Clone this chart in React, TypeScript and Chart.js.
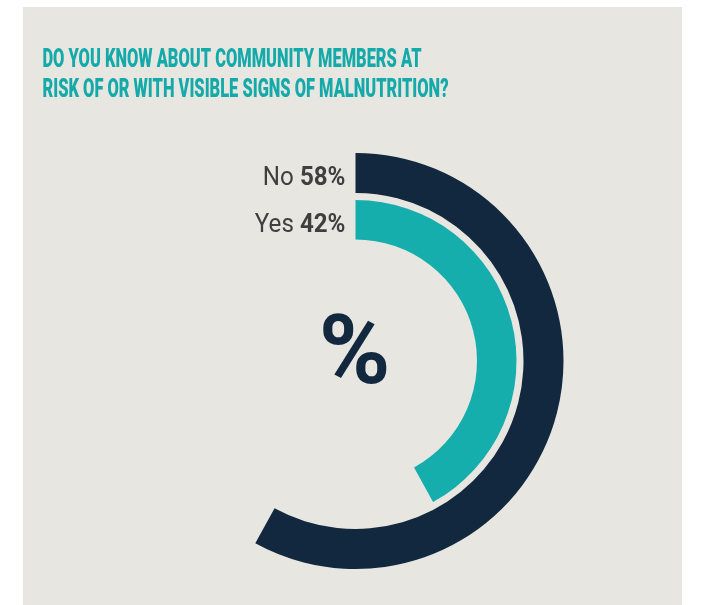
import React, { useEffect, useRef } from "react";
import { Chart, registerables } from "chart.js";

Chart.register(...registerables);

const titleLines = [
  "DO YOU KNOW ABOUT COMMUNITY MEMBERS AT",
  "RISK OF OR WITH VISIBLE SIGNS OF MALNUTRITION?",
];
const categories = ["No", "Yes"];
const values = [58, 42];
const seriesColors = ["#12283e", "#16adad"];
const centerSymbol = "%";

const BG = "#e7e6e1";
const TITLE_COLOR = "#13aaa9";
const LABEL_COLOR = "#3f3f3f";

const overlayPlugin = {
  id: "overlay",
  beforeDraw(chart: any) {
    const ctx = chart.ctx;
    ctx.save();
    ctx.fillStyle = "#ffffff";
    ctx.fillRect(0, 0, chart.width, chart.height);
    ctx.fillStyle = BG;
    ctx.fillRect(23, 7, 659, chart.height - 7);
    ctx.restore();
  },
  afterDraw(chart: any) {
    const ctx = chart.ctx;
    ctx.save();
    // title
    ctx.fillStyle = TITLE_COLOR;
    ctx.font = "900 25px Roboto";
    ctx.textBaseline = "alphabetic";
    ctx.textAlign = "left";
    const w0 = ctx.measureText(titleLines[0]).width;
    const sx = 379 / w0;
    titleLines.forEach((line, i) => {
      ctx.save();
      ctx.translate(42.5, 67 + i * 30);
      ctx.scale(sx, 1);
      ctx.fillText(line, 0, 0);
      ctx.restore();
    });

    // labels beside ring starts
    const meta0 = chart.getDatasetMeta(0);
    const cx = meta0.data[0].x;
    const cy = meta0.data[0].y;
    const ringIdx = [0, 2];
    categories.forEach((cat, i) => {
      const arc: any = chart.getDatasetMeta(ringIdx[i]).data[0];
      const mid = cy - (arc.outerRadius + arc.innerRadius) / 2;
      const baseline = mid + 12;
      const right = cx - 10;
      const valTxt = values[i] + "%";
      ctx.textAlign = "left";
      ctx.fillStyle = LABEL_COLOR;
      ctx.font = "bold 26px Roboto";
      const vw = ctx.measureText(valTxt).width;
      ctx.font = "26px Roboto";
      const cw = ctx.measureText(cat + " ").width;
      const total = vw + cw;
      ctx.save();
      ctx.translate(right, baseline);
      ctx.scale(0.93, 1);
      ctx.font = "26px Roboto";
      ctx.fillText(cat + " ", -total, 0);
      ctx.font = "bold 26px Roboto";
      ctx.fillText(valTxt, -vw, 0);
      ctx.restore();
    });

    // center symbol
    ctx.fillStyle = seriesColors[0];
    ctx.font = "bold 97px Roboto";
    ctx.textAlign = "center";
    ctx.textBaseline = "alphabetic";
    ctx.fillText(centerSymbol, cx - 1, 383);
    ctx.restore();
  },
};

export default function App() {
  const ref = useRef<HTMLCanvasElement | null>(null);
  useEffect(() => {
    if (!ref.current) return;
    const R = 208;
    const inner = 121.5;
    const chart = new Chart(ref.current, {
      type: "doughnut",
      data: {
        labels: ["value", "rest"],
        datasets: [
          {
            data: [values[0], 100 - values[0]],
            backgroundColor: [seriesColors[0], "rgba(0,0,0,0)"],
            borderWidth: 0,
            weight: 40,
          },
          {
            data: [100],
            backgroundColor: ["rgba(0,0,0,0)"],
            borderWidth: 0,
            weight: 7,
          },
          {
            data: [values[1], 100 - values[1]],
            backgroundColor: [seriesColors[1], "rgba(0,0,0,0)"],
            borderWidth: 0,
            weight: 39.5,
          },
        ],
      },
      options: {
        responsive: false,
        animation: false,
        cutout: ((inner / R) * 100).toFixed(3) + "%",
        layout: {
          padding: {
            left: 355.5 - R,
            right: 718 - (355.5 + R),
            top: 361 - R,
            bottom: 605 - (361 + R),
          },
        },
        plugins: {
          legend: { display: false },
          tooltip: { enabled: false },
          title: { display: false },
        },
      },
      plugins: [overlayPlugin],
    });
    return () => chart.destroy();
  }, []);
  return (
    <div style={{ position: "absolute", left: 0, top: 0, width: 718, height: 605, background: "#fff" }}>
      <canvas ref={ref} width={718} height={605} style={{ display: "block" }} />
    </div>
  );
}
